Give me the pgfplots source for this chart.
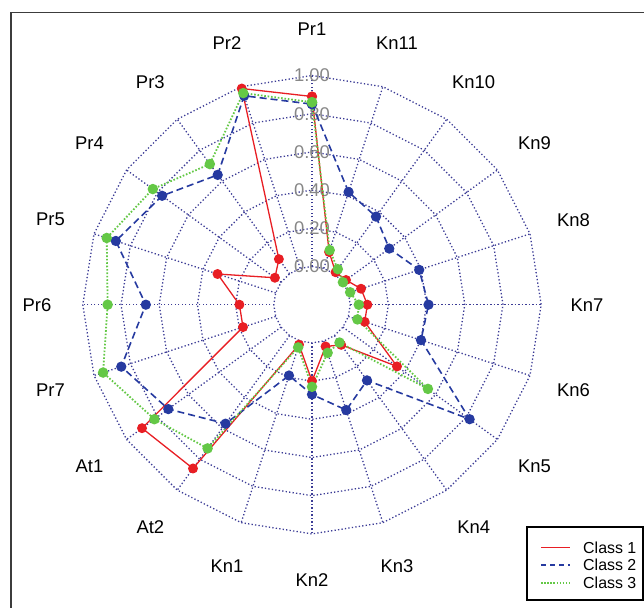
\documentclass[border=0pt]{standalone}
\usepackage{pgfplots}
\usepackage{pgfplotstable}
\pgfplotsset{compat=1.18}
\usepackage{fontspec}
\setmainfont{Liberation Sans}

\definecolor{cRed}{RGB}{232,30,36}
\definecolor{cBlue}{RGB}{38,58,160}
\definecolor{cGreen}{RGB}{100,200,70}
\definecolor{cGrid}{RGB}{60,60,150}
\definecolor{cLab}{RGB}{135,135,135}
\definecolor{cFrame}{RGB}{60,60,60}

\pgfplotstableread{
ang red blue green
90 0.89 0.85 0.86
72 0.09 0.42 0.10
54 0.01 0.37 0.03
36 0.02 0.30 0.00
18 0.07 0.39 0.01
0 0.09 0.41 0.045
-18 0.09 0.40 0.05
-36 0.35 0.82 0.55
-54 0.06 0.29 0.045
-72 0.03 0.38 0.065
-90 0.20 0.27 0.23
-108 0.02 0.19 0.035
-126 0.86 0.57 0.73
-144 0.90 0.73 0.82
-162 0.18 0.85 0.95
-180 0.18 0.67 0.87
-198 0.32 0.88 0.93
-216 0.04 0.77 0.83
-234 0.095 0.64 0.71
-252 0.99 0.95 0.965
-270 0.89 0.85 0.86
}\radardata

\begin{document}
\begin{tikzpicture}
% frame
\draw[line width=1.5bp, cFrame] (11bp,595.5bp) rectangle (720bp,-60bp);
% legend (the chart never reaches this corner)
\draw[draw=cRed, line width=1.8bp] (541bp,60.5bp) -- (570bp,60.5bp);
\draw[draw=cBlue, line width=1.5bp, dash pattern=on 5bp off 4bp] (541bp,43bp) -- (570bp,43bp);
\draw[draw=cGreen, line width=1.6bp, dash pattern=on 1.5bp off 1.6bp] (541bp,25bp) -- (570bp,25bp);
\draw[line width=1.3bp, draw=black] (527bp,81bp) rectangle (643bp,8bp);
\node[anchor=west, inner sep=0pt, font=\fontsize{16}{17.5}\selectfont] at (583bp,60.5bp) {Class 1};
\node[anchor=west, inner sep=0pt, font=\fontsize{16}{17.5}\selectfont] at (583bp,43bp) {Class 2};
\node[anchor=west, inner sep=0pt, font=\fontsize{16}{17.5}\selectfont] at (583bp,25bp) {Class 3};
% grid and labels
\begin{scope}[shift={(312bp,303.3bp)}, x=191bp, y=191bp]
  \tikzset{gridline/.style={cGrid, line width=1.3bp, dash pattern=on 1.3bp off 2.2bp}}
  \foreach \r in {0.2,0.4,0.6,0.8,1.0,1.2}{
    \draw[gridline] (90:\r) \foreach \a in {72,54,...,-252}{ -- (\a:\r) } -- cycle;
  }
  \foreach \a in {90,72,...,-252}{
    \draw[gridline] (\a:0.2) -- (\a:1.2);
  }
  \foreach \v/\t in {0.2/0.00,0.4/0.20,0.6/0.40,0.8/0.60,1.0/0.80,1.2/1.00}{
    \node[cLab, font=\fontsize{18.5}{20}\selectfont, inner sep=0pt] at (0,\v) {\t};
  }
  \foreach \a/\t in {90/Pr1,72/Kn11,54/Kn10,36/Kn9,18/Kn8,0/Kn7,-18/Kn6,-36/Kn5,-54/Kn4,-72/Kn3,-90/Kn2,-108/Kn1,-126/At2,-144/At1,-162/Pr7,180/Pr6,162/Pr5,144/Pr4,126/Pr3,108/Pr2}{
    \node[black, font=\fontsize{18.5}{20}\selectfont, inner sep=0pt] at (\a:1.44) {\t};
  }
\end{scope}
\begin{axis}[
  at={(0,0)}, anchor=south west,
  scale only axis, width=644bp, height=608bp,
  xmin=-1.6335, xmax=1.7382, ymin=-1.5880, ymax=1.5953,
  hide axis, clip=false,
]
\addplot[cRed, line width=1.3bp, mark=*, mark size=4.3bp,
  mark options={solid, fill=cRed, draw=cRed}]
  table[x expr={(0.2+\thisrow{red})*cos(\thisrow{ang})},
        y expr={(0.2+\thisrow{red})*sin(\thisrow{ang})}] {\radardata};
\addplot[cBlue, line width=1.6bp, dash pattern=on 7bp off 4bp, mark=*, mark size=4.3bp,
  mark options={solid, fill=cBlue, draw=cBlue}]
  table[x expr={(0.2+\thisrow{blue})*cos(\thisrow{ang})},
        y expr={(0.2+\thisrow{blue})*sin(\thisrow{ang})}] {\radardata};
\addplot[cGreen, line width=1.8bp, dash pattern=on 1.6bp off 1.8bp, mark=*, mark size=4.3bp,
  mark options={solid, fill=cGreen, draw=cGreen}]
  table[x expr={(0.2+\thisrow{green})*cos(\thisrow{ang})},
        y expr={(0.2+\thisrow{green})*sin(\thisrow{ang})}] {\radardata};
\end{axis}
\pgfresetboundingbox
\useasboundingbox (0,0) rectangle (644bp,608bp);
\end{tikzpicture}
\end{document}
